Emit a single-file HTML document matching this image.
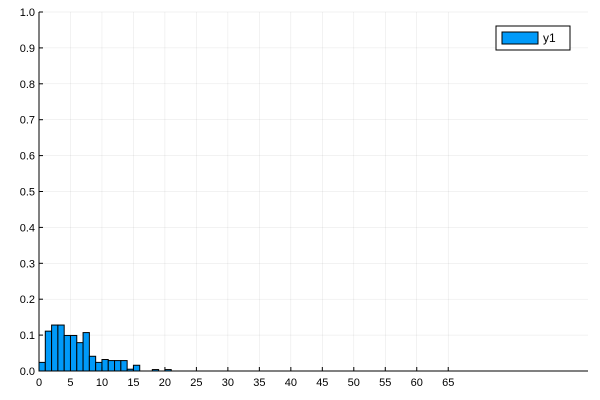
<!DOCTYPE html>
<html><head><meta charset="utf-8"><style>body{margin:0;background:#fff}svg{display:block;font-family:"Liberation Sans",sans-serif}</style></head>
<body>
<svg id="chart" width="600" height="400" viewBox="0 0 600 400">
<g id="grid"></g>
<g id="bars"></g>
<g id="axes"></g>
<g>
<rect x="496" y="26" width="74" height="24" fill="#fff" stroke="#000" stroke-width="1"/>
<rect x="502" y="32" width="36" height="12" fill="#009af9" stroke="#000" stroke-width="1"/>
<text x="543" y="42" font-size="12">y1</text>
</g>
</svg>
<script>
const binStarts=[0,1,2,3,4,5,6,7,8,9,10,11,12,13,14,15,16,17,18,19,20];
const binValues=[0.024,0.111,0.128,0.128,0.099,0.099,0.079,0.107,0.041,0.024,0.032,0.029,0.029,0.029,0.005,0.016,0,0,0.004,0,0.004];
const xTicks=[0,5,10,15,20,25,30,35,40,45,50,55,60,65];
const yTicks=[0,0.1,0.2,0.3,0.4,0.5,0.6,0.7,0.8,0.9,1.0];
const NS='http://www.w3.org/2000/svg';
const L=39,R=588,T=12,B=371,XMAX=87.2;
const sx=v=>L+v/XMAX*(R-L), sy=v=>B-v*(B-T);
function mk(tag,attrs,parent){const e=document.createElementNS(NS,tag);for(const k in attrs)e.setAttribute(k,attrs[k]);parent.appendChild(e);return e;}
const grid=document.getElementById('grid'),bars=document.getElementById('bars'),axes=document.getElementById('axes');
xTicks.forEach(t=>{const l=mk('line',{x1:sx(t),x2:sx(t),y1:T,y2:B,stroke:'#000','stroke-opacity':0.1,'stroke-width':0.5},grid);


const tk=mk('line',{x1:sx(t),x2:sx(t),y1:B,y2:B-4,stroke:'#000'},axes);


const tx=mk('text',{x:sx(t),y:B+15,'font-size':11,'text-anchor':'middle'},axes);tx.textContent=t;

});
yTicks.forEach(t=>{const l=mk('line',{x1:L,x2:R,y1:sy(t),y2:sy(t),stroke:'#000','stroke-opacity':0.1,'stroke-width':0.5},grid);


const tk=mk('line',{x1:L,x2:L+4,y1:sy(t),y2:sy(t),stroke:'#000'},axes);


const tx=mk('text',{x:L-4,y:sy(t)+4,'font-size':11,'text-anchor':'end'},axes);tx.textContent=t.toFixed(1);

});
binStarts.forEach((s,i)=>{const v=binValues[i];if(v<=0)return;
const r=mk('rect',{x:sx(s),y:sy(v),width:sx(s+1)-sx(s),height:B-sy(v),fill:'#009af9',stroke:'#000','stroke-width':1},bars);

});
const ax=mk('line',{x1:L,x2:R,y1:B,y2:B,stroke:'#000'},axes);


const ay=mk('line',{x1:L,x2:L,y1:T,y2:B,stroke:'#000'},axes);


</script>
</body></html>
